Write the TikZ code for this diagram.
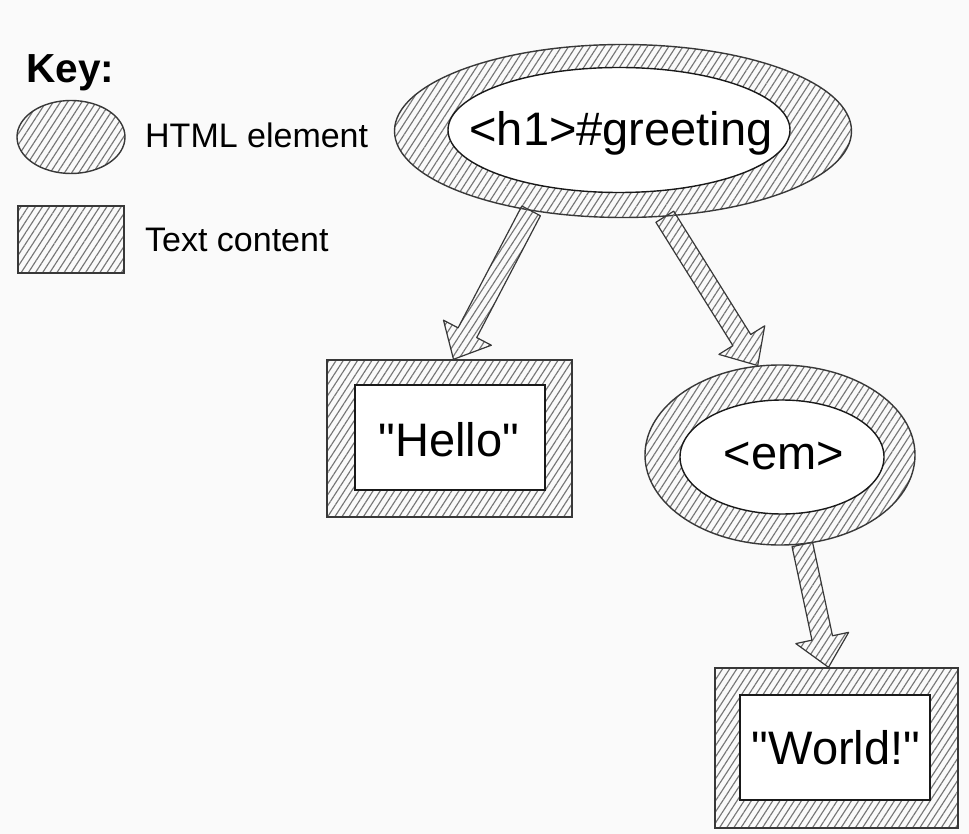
\documentclass[tikz,border=0pt]{standalone}
\usepackage{fontspec}
\setmainfont{Liberation Sans}[Ligatures=TeXOff]
\usetikzlibrary{shapes.geometric,patterns.meta,calc}
\definecolor{bg}{HTML}{FAFAFA}
\definecolor{hatchc}{HTML}{767676}
\definecolor{edgec}{HTML}{383838}
\tikzset{
  hatched/.style={pattern={Lines[angle=57,distance=6pt,line width=1.15pt]}, pattern color=hatchc, draw=edgec, line width=1.4pt},
  outerell/.style={hatched, ellipse, inner sep=0pt},
  outerrect/.style={hatched, rectangle, inner sep=0pt},
  innerell/.style={ellipse, fill=white, draw=black!90, line width=1.4pt, inner sep=0pt},
  innerrect/.style={rectangle, fill=white, draw=black!90, line width=1.4pt, inner sep=0pt},
  bigtxt/.style={font=\fontsize{47}{57}\selectfont, inner sep=0pt, anchor=base},
  keytxt/.style={font=\fontsize{34}{40}\selectfont, anchor=base west, inner sep=0pt},
  blockarr/.style={hatched, line width=1.2pt, line join=round},
}
\newcommand\blockarrow[2]{%
  \path (#1) coordinate (ba-s) (#2) coordinate (ba-e);
  \path ($(ba-e)!30pt!(ba-s)$) coordinate (ba-b);
  \filldraw[blockarr] ($(ba-s)!10.5pt!90:(ba-e)$) -- ($(ba-b)!10.5pt!90:(ba-e)$)
    -- ($(ba-b)!27pt!90:(ba-e)$) -- (ba-e) -- ($(ba-b)!27pt!-90:(ba-e)$)
    -- ($(ba-b)!10.5pt!-90:(ba-e)$) -- ($(ba-s)!10.5pt!-90:(ba-e)$) -- cycle;
}
\begin{document}
\begin{tikzpicture}[x=1pt,y=-1pt]
\fill[bg] (0,0) rectangle (969,834);
\useasboundingbox (0,0) rectangle (969,834);

% key
\node[keytxt, font=\fontsize{40.6}{48}\selectfont\bfseries] (keyt) at (26,83) {Key:};
\node[outerell, minimum width=108pt, minimum height=73pt] (keyell) at (71,137) {};
\node[keytxt] (keyelt) at (145,148) {HTML element};
\node[outerrect, minimum width=106pt, minimum height=67pt] (keyrect) at (71,239.5) {};
\node[keytxt] (keyrt) at (145,252) {Text content};

% h1
\node[outerell, minimum width=457pt, minimum height=173pt] (h1) at (623,131) {};
\node[innerell, minimum width=342pt, minimum height=125pt] (h1in) at (619,130) {};
\node[bigtxt] (h1t) at (621,146) {<h1>\#greeting};

% Hello
\node[outerrect, minimum width=245pt, minimum height=157pt] (hello) at (449.5,438.5) {};
\node[innerrect, minimum width=190pt, minimum height=105pt] (helloin) at (450,437.5) {};
\node[bigtxt] (hellot) at (449,456) {"Hello"};

% em
\node[outerell, minimum width=270pt, minimum height=180pt] (em) at (780,455) {};
\node[innerell, minimum width=204pt, minimum height=114pt] (emin) at (782,457) {};
\node[bigtxt] (emt) at (784,469) {<em>};

% World
\node[outerrect, minimum width=243pt, minimum height=160pt] (world) at (836.5,748) {};
\node[innerrect, minimum width=190pt, minimum height=105pt] (worldin) at (835,747.5) {};
\node[bigtxt] (worldt) at (836,764) {"World!"};

% arrows
\blockarrow{h1.221}{$(hello.north)+(4,0)$}
\blockarrow{h1.296}{em.104}
\blockarrow{em.284}{$(world.north)+(-8,0)$}
\end{tikzpicture}
\end{document}
